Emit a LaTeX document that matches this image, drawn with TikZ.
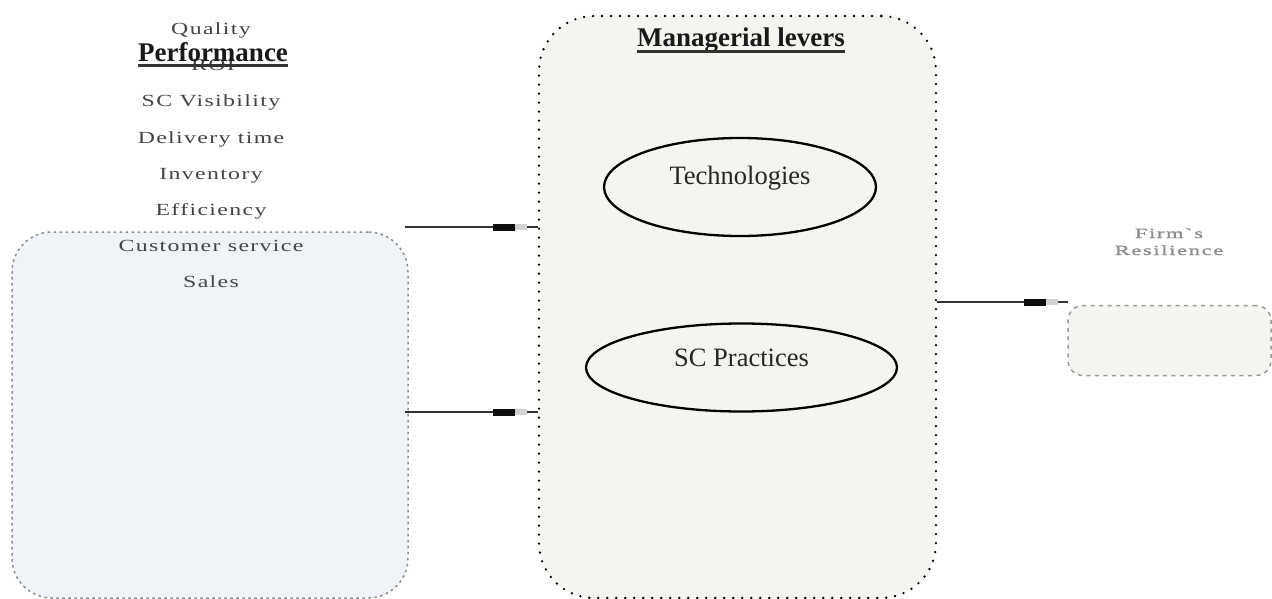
\documentclass[tikz,border=0pt]{standalone}
\usepackage{fontspec}
\setmainfont{Liberation Serif}
\newfontfamily\listfont[FakeStretch=1.4,LetterSpace=8]{Liberation Serif}
\newfontfamily\tinyfont[FakeStretch=1.6,LetterSpace=12,FakeBold=1.5]{Liberation Serif}
\usetikzlibrary{shapes.geometric}
\definecolor{perffill}{HTML}{F0F4F9}
\definecolor{levfill}{HTML}{F3F6F0}
\definecolor{listgray}{HTML}{444444}
\definecolor{conncol}{HTML}{333333}
\tikzset{
  perfbox/.style={draw=gray!90, fill=perffill, line width=1.5pt,
    dash pattern=on 2.5pt off 3.5pt, rounded corners=40pt, inner sep=0pt},
  levbox/.style={draw=black, fill=levfill, line width=2.6pt, line cap=round,
    dash pattern=on 0pt off 9pt, rounded corners=55pt, inner sep=0pt},
  resbox/.style={draw=gray!80, fill=levfill, line width=1.5pt,
    dash pattern=on 4pt off 4.5pt, rounded corners=15pt, inner sep=0pt},
  lever/.style={ellipse, draw=black, line width=2.3pt, inner sep=0pt},
  listitem/.style={anchor=base, inner sep=0pt, text=listgray,
    font=\listfont\fontsize{17}{20}\selectfont},
  titletext/.style={anchor=base, inner sep=0pt, text=black!90,
    font=\bfseries\fontsize{27}{30}\selectfont},
  levertext/.style={anchor=base, inner sep=0pt, text=black!85,
    font=\fontsize{26.5}{30}\selectfont},
  restext/.style={anchor=base, inner sep=0pt, text=gray!90,
    font=\tinyfont\fontsize{14}{16}\selectfont},
  conn/.style={draw=conncol, line width=2.2pt},
  tipdark/.style={fill=black!95, draw=none, minimum width=22pt, minimum height=7pt, inner sep=0pt},
  tiplight/.style={fill=gray!35, draw=none, minimum width=12pt, minimum height=5.5pt, inner sep=0pt},
}
\begin{document}
\begin{tikzpicture}[x=1pt,y=-1pt]
\useasboundingbox (0,0) rectangle (1272,599);

% containers
\node[perfbox, minimum width=396pt, minimum height=366pt] (perf) at (210,415) {};
\node[levbox, minimum width=397pt, minimum height=582pt] (lev) at (737.5,307) {};
\node[resbox, minimum width=203pt, minimum height=70pt] (res) at (1169.5,340.5) {};

% performance dimensions
\node[listitem] (roi) at (213,71) {ROI};
\node[listitem] (qual) at (211,35) {Quality};
\node[titletext] (perfT) at (213,62) {Performance};
\draw[line width=2.2pt, black!80] ([yshift=-3.5pt]perfT.base west) -- ([yshift=-3.5pt]perfT.base east);
\node[listitem] (vis) at (211,107) {SC Visibility};
\node[listitem] (del) at (211,143) {Delivery time};
\node[listitem] (inv) at (211,179) {Inventory};
\node[listitem] (eff) at (211,215) {Efficiency};
\node[listitem] (cust) at (211,251) {Customer service};
\node[listitem] (sales) at (211,287) {Sales};

% managerial levers
\node[titletext] (levT) at (741,47) {Managerial levers};
\draw[line width=2.2pt, black!80] ([yshift=-4.5pt]levT.base west) -- ([yshift=-4.5pt]levT.base east);
\node[lever, minimum width=272pt, minimum height=98pt] (tech) at (740,187) {};
\node[levertext] (techT) at (740,185) {Technologies};
\node[lever, minimum width=311pt, minimum height=88pt] (prac) at (741.5,367.5) {};
\node[levertext] (pracT) at (741.5,366) {SC Practices};

% outcome
\node[restext] (firm) at (1169,238) {Firm`s};
\node[restext] (resil) at (1169,255) {Resilience};

% connectors
\coordinate (s1) at (405,227);
\coordinate (s2) at (405,412);
\coordinate (s3) at (1068,302);
\draw[conn] (s1) -- (s1 -| lev.west)
  node[pos=0.873, tiplight] {} node[pos=0.746, tipdark] {};
\draw[conn] (s2) -- (s2 -| lev.west)
  node[pos=0.873, tiplight] {} node[pos=0.746, tipdark] {};
\draw[conn] (s3 -| lev.east) -- (s3)
  node[pos=0.878, tiplight] {} node[pos=0.75, tipdark] {};
\end{tikzpicture}
\end{document}
